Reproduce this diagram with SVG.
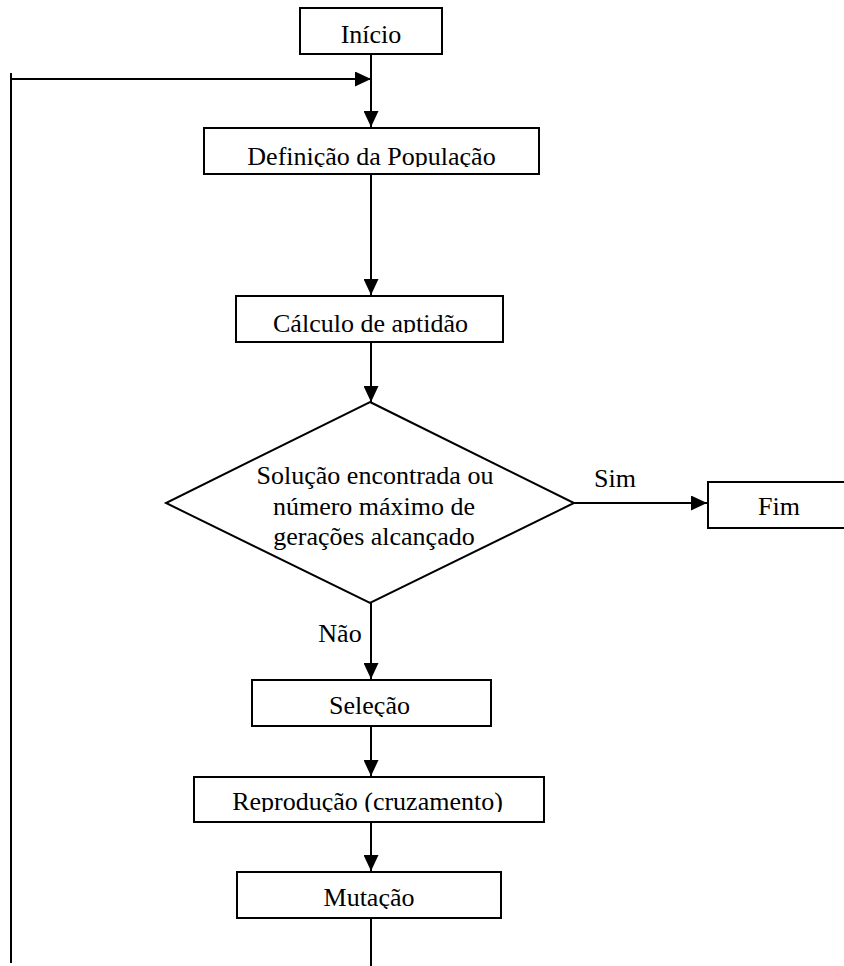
<svg xmlns="http://www.w3.org/2000/svg" width="844" height="966" viewBox="0 0 844 966">
<style>
.box{fill:#fff;stroke:#000;stroke-width:2}
.dec{fill:#fff;stroke:#000;stroke-width:2}
.t{font-family:"Liberation Serif","Times New Roman",serif;font-size:26px;fill:#000;text-anchor:middle}
.c{fill:none;stroke:#000;stroke-width:2}
</style>
<defs>
<marker id="ah" viewBox="0 0 16 15" refX="16" refY="7.5" markerWidth="16" markerHeight="15" markerUnits="userSpaceOnUse" orient="auto">
<path d="M0,0 L16,7.5 L0,15 Z" fill="#000"/>
</marker>
<clipPath id="clDef"><rect x="204" y="128" width="335" height="39"/></clipPath>
<clipPath id="clCal"><rect x="236" y="296" width="267" height="37"/></clipPath>
<clipPath id="clSel"><rect x="252" y="680" width="239" height="37"/></clipPath>
<clipPath id="clRep"><rect x="194" y="777" width="350" height="35"/></clipPath>
<clipPath id="clMut"><rect x="237" y="872" width="264" height="37"/></clipPath>
</defs>
<rect width="844" height="966" fill="#fff"/>
<g id="connectors">
<line class="c" x1="371" y1="55" x2="371" y2="127" marker-end="url(#ah)"/>
<path class="c" d="M11,963 L11,73 M11,79 L371,79" marker-end="url(#ah)"/>
<line class="c" x1="371" y1="175" x2="371" y2="295" marker-end="url(#ah)"/>
<line class="c" x1="371" y1="343" x2="371" y2="402" marker-end="url(#ah)"/>
<line class="c" x1="574" y1="503" x2="707" y2="503" marker-end="url(#ah)"/>
<line class="c" x1="371" y1="603" x2="371" y2="679" marker-end="url(#ah)"/>
<line class="c" x1="371" y1="727" x2="371" y2="776" marker-end="url(#ah)"/>
<line class="c" x1="371" y1="823" x2="371" y2="871" marker-end="url(#ah)"/>
<line class="c" x1="371" y1="919" x2="371" y2="966"/>
<text class="t" x="615" y="487">Sim</text>
<text class="t" x="340" y="642">Não</text>
</g>
<g id="inicio">
<rect class="box" x="300" y="8" width="142" height="46"/>
<text class="t" x="371" y="43">Início</text>
</g>
<g id="definicao">
<rect class="box" x="204" y="128" width="335" height="46"/>
<text class="t" x="371.5" y="165" clip-path="url(#clDef)">Definição da População</text>
</g>
<g id="calculo">
<rect class="box" x="236" y="296" width="267" height="46"/>
<text class="t" x="370.5" y="332" clip-path="url(#clCal)">Cálculo de aptidão</text>
</g>
<g id="decisao">
<polygon class="dec" points="370,402 574,503 370,603 166,503"/>
<text class="t" x="375" y="484">Solução encontrada ou</text>
<text class="t" x="374" y="515">número máximo de</text>
<text class="t" x="374" y="545">gerações alcançado</text>
</g>
<g id="fim">
<rect class="box" x="708" y="482" width="140" height="46"/>
<text class="t" x="779" y="515">Fim</text>
</g>
<g id="selecao">
<rect class="box" x="252" y="680" width="239" height="46"/>
<text class="t" x="369.5" y="714" clip-path="url(#clSel)">Seleção</text>
</g>
<g id="reproducao">
<rect class="box" x="194" y="777" width="350" height="45"/>
<text class="t" x="367.5" y="810" clip-path="url(#clRep)">Reprodução (cruzamento)</text>
</g>
<g id="mutacao">
<rect class="box" x="237" y="872" width="264" height="46"/>
<text class="t" x="369" y="906" clip-path="url(#clMut)">Mutação</text>
</g>
</svg>
